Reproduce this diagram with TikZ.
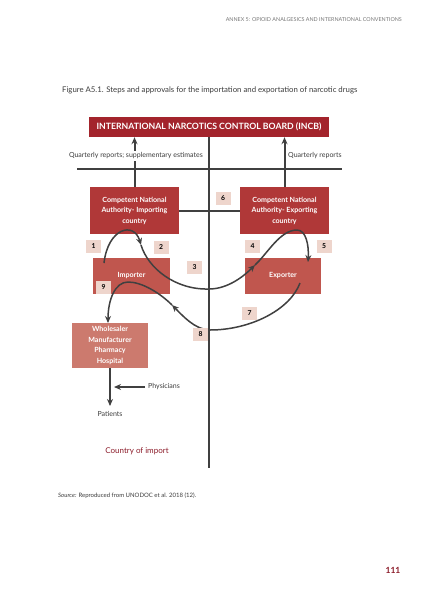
\documentclass[tikz,border=0pt]{standalone}
\usepackage{fontspec}
\setmainfont{Lato}
\usetikzlibrary{arrows.meta}
\definecolor{incbred}{RGB}{163,36,44}
\definecolor{cnared}{RGB}{176,56,56}
\definecolor{actred}{RGB}{192,86,78}
\definecolor{whred}{RGB}{204,122,110}
\definecolor{numpink}{RGB}{238,213,204}
\definecolor{linegray}{RGB}{64,64,64}
\definecolor{textgray}{RGB}{60,60,60}
\definecolor{headgray}{RGB}{120,120,120}
\definecolor{darkred}{RGB}{140,28,42}
\begin{document}
\begin{tikzpicture}[x=1pt,y=-1pt,
  line/.style={draw=linegray, line width=2pt},
  flow/.style={draw=linegray, line width=1.5pt},
  tip/.style={-{Stealth[length=7pt,width=6pt]}},
  box/.style={inner sep=0pt, align=center, text=white, font=\fontsize{7.1}{10.5}\selectfont\bfseries},
  numbox/.style={fill=numpink, minimum width=15pt, minimum height=13pt, inner sep=0pt, font=\fontsize{6.8}{7}\selectfont\bfseries},
  lab/.style={inner sep=0pt, text=textgray, font=\fontsize{7}{8}\selectfont},
]
\fill[white] (0,0) rectangle (431,598);
\useasboundingbox (0,0) rectangle (431,598);

% header and title
\node[anchor=east, inner sep=0pt, text=headgray, font=\fontsize{5.4}{6}\selectfont] (head) at (402,20) {ANNEX 5: OPIOID ANALGESICS AND INTERNATIONAL CONVENTIONS};
\node[anchor=west, inner sep=0pt, text=textgray, font=\fontsize{7.8}{9}\selectfont] (title) at (62,90) {Figure A5.1. Steps and approvals for the importation and exportation of narcotic drugs};

% main boxes
\node[box, fill=incbred, minimum width=240pt, minimum height=20pt, font=\fontsize{8.7}{10}\selectfont\bfseries] (incb) at (209,127) {INTERNATIONAL NARCOTICS CONTROL BOARD (INCB)};
\node[box, fill=cnared, minimum width=89pt, minimum height=47pt] (cnai) at (134.5,210.5) {Competent National\\Authority- Importing\\country};
\node[box, fill=cnared, minimum width=89pt, minimum height=47pt] (cnae) at (284.5,210.5) {Competent National\\Authority- Exporting\\country};
\node[box, fill=actred, minimum width=77pt, minimum height=36pt] (imp) at (131.5,276) {Importer};
\node[box, fill=actred, minimum width=76pt, minimum height=36pt] (exp) at (283,276) {Exporter};
\node[box, fill=whred, minimum width=76pt, minimum height=45pt] (whs) at (110,345.5) {Wholesaler\\Manufacturer\\Pharmacy\\Hospital};

% structural lines
\coordinate (cbot) at (209,468);
\coordinate (hl) at (77,169);
\coordinate (hr) at (342,169);
\draw[line] (incb.south) -- (cbot);
\draw[line] (hl) -- (hr);
\draw[line, tip] (cnai.north) -- (cnai.north |- incb.south);
\draw[line, tip] (cnae.north) -- (cnae.north |- incb.south);
\draw[line] (cnai.east) -- (cnae.west);

\node[lab, anchor=east, fill=white, inner ysep=2pt] (qr1) at (203,156) {Quarterly reports; supplementary estimates};
\node[lab, anchor=west] (qr2) at (288,156) {Quarterly reports};

% flow curve 1-2-3-4-5
\coordinate (s1) at (104,263);
\coordinate (a1) at (141,245);
\coordinate (m1) at (209,289);
\coordinate (b1) at (255,265);
\coordinate (pk) at (297,230);
\coordinate (e1) at (308,262);
\draw[flow, tip] (s1) .. controls (108,228) and (134,221) .. (a1);
\draw[flow] (a1) .. controls (148,268) and (175,290) .. (m1);
\draw[flow, tip] (m1) .. controls (228,289) and (244,276) .. (b1);
\draw[flow] (b1) .. controls (268,253) and (280,230) .. (pk);
\draw[flow, tip] (pk) .. controls (306,230) and (309,245) .. (e1);

% flow curve 7-8-9
\coordinate (s2) at (300,283);
\coordinate (m2) at (210,330);
\coordinate (a2) at (172,305);
\coordinate (pk2) at (128,282);
\coordinate (e2) at (108,323);
\draw[flow] (s2) .. controls (290,310) and (250,330) .. (m2);
\draw[flow, tip] (m2) .. controls (195,330) and (182,315) .. (a2);
\draw[flow] (a2) .. controls (160,293) and (142,282) .. (pk2);
\draw[flow, tip] (pk2) .. controls (115,282) and (108,300) .. (e2);

% number boxes
\node[numbox] (n1) at (93.5,246) {1};
\node[numbox] (n2) at (161,247) {2};
\node[numbox] (n3) at (194.5,267.5) {3};
\node[numbox] (n4) at (252.5,246) {4};
\node[numbox] (n5) at (324,246) {5};
\node[numbox] (n6) at (223,198.5) {6};
\node[numbox] (n7) at (249.5,313.5) {7};
\node[numbox] (n8) at (200.5,334.5) {8};
\node[numbox] (n9) at (103.5,287) {9};

% bottom part
\node[lab] (pat) at (110,414) {Patients};
\node[lab, anchor=west] (phy) at (148,387) {Physicians};
\coordinate (pstart) at (145,387);
\coordinate (pa) at (114,387);
\coordinate (pend) at (110,406);
\draw[line, line width=1.6pt, tip] (whs.south) -- (pend);
\draw[line, line width=1.6pt, tip] (pstart) -- (pa);
\node[inner sep=0pt, text=darkred, font=\fontsize{8}{9}\selectfont] (coi) at (137,451) {Country of import};

\node[anchor=west, inner sep=0pt, text=textgray, font=\fontsize{6}{7}\selectfont] (src) at (58,496) {\textit{Source:} Reproduced from UNODOC et al. 2018 (12).};
\node[inner sep=0pt, text=darkred, font=\fontsize{8.5}{9}\selectfont\bfseries] (pg) at (393,570) {111};
\end{tikzpicture}
\end{document}
